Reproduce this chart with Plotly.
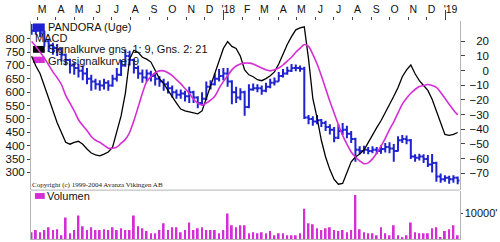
import plotly.graph_objects as go
import pandas as pd

# ---------------- data ----------------
week_start = "2017-02-20"
n_weeks = 101
weeks = pd.date_range(week_start, periods=n_weeks, freq="7D")

first_open = 845
close = [830, 835, 820, 790, 775, 765, 760, 740, 720, 700,
         690, 680, 670, 650, 640, 630, 625, 635, 625, 650,
         665, 700, 735, 720, 690, 670, 655, 670, 660, 650,
         640, 630, 615, 600, 590, 595, 585, 600, 580, 560,
         575, 620, 630, 650, 660, 670, 640, 600, 580, 600,
         545, 610, 615, 615, 605, 620, 635, 640, 660, 670,
         680, 690, 690, 688, 505, 500, 490, 495, 485, 470,
         460, 430, 455, 460, 445, 425, 385, 380, 385, 380,
         385, 380, 388, 395, 390, 380, 420, 425, 420, 360,
         355, 360, 350, 330, 335, 285, 275, 280, 275, 280,
         270]
high = [855, 850, 848, 830, 800, 785, 780, 765, 745, 725,
        712, 705, 700, 690, 665, 650, 645, 650, 645, 665,
        690, 720, 760, 755, 725, 700, 685, 685, 680, 670,
        660, 650, 640, 625, 610, 610, 605, 620, 605, 585,
        600, 640, 645, 670, 687, 690, 690, 645, 620, 615,
        605, 630, 632, 630, 625, 635, 650, 655, 675, 687,
        695, 705, 703, 700, 695, 515, 510, 515, 500, 493,
        480, 470, 480, 485, 475, 455, 430, 398, 400, 395,
        398, 395, 402, 410, 413, 406, 435, 440, 438, 425,
        368, 370, 368, 365, 369, 340, 296, 290, 288, 290,
        285]
low = [815, 815, 805, 770, 750, 740, 735, 715, 700, 670,
       665, 655, 645, 630, 605, 610, 605, 610, 605, 620,
       640, 660, 695, 700, 670, 650, 635, 640, 640, 625,
       620, 605, 595, 580, 575, 575, 565, 560, 560, 540,
       550, 570, 610, 625, 640, 645, 620, 555, 560, 570,
       512, 540, 605, 600, 590, 600, 615, 625, 640, 655,
       665, 675, 678, 676, 500, 480, 475, 480, 470, 455,
       442, 413, 425, 440, 428, 410, 340, 368, 370, 368,
       372, 368, 370, 375, 372, 340, 378, 410, 405, 350,
       340, 345, 335, 320, 300, 265, 262, 265, 258, 262,
       256]
open_ = [first_open] + close[:-1]

macd = [9.8, 3.1, -2.2, -10.9, -18.9, -27.5, -35.5, -42.2, -48.9, -50.2,
        -48.9, -48.2, -50.2, -53.5, -56.2, -57.5, -58.2, -56.9, -55.5, -52.2,
        -42.2, -30.9, -15.5, 7.8, 13.8, 12.5, 9.1, 7.8, 5.8, -0.2,
        -5.5, -8.9, -13.5, -17.5, -22.2, -26.2, -27.5, -28.2, -28.9, -29.5,
        -27.5, -18.9, -10.2, -0.9, 7.8, 15.1, 19.8, 16.5, 15.1, 9.8,
        0.5, -2.9, -4.2, -6.2, -6.9, -5.5, -3.5, -0.9, 4.5, 11.1,
        17.8, 23.1, 27.8, 29.1, 29.8, 7.8, -18.9, -32.2, -47.5, -58.9,
        -67.5, -74.2, -77.5, -76.9, -68.9, -62.2, -58.9, -56.9, -54.2, -48.9,
        -44.2, -38.9, -34.2, -28.9, -23.5, -17.5, -11.5, -4.2, 0.5, 3.8,
        -2.2, -6.9, -10.2, -13.5, -19.5, -27.5, -36.9, -43.5, -44.2, -43.5,
        -42.2]
signal = [19.8, 16.5, 12.5, 8.5, 3.8, -0.9, -4.9, -9.5, -16.9, -22.2,
          -27.5, -33.5, -37.5, -40.9, -44.9, -47.5, -48.9, -50.9, -52.9, -52.9,
          -52.2, -49.5, -46.9, -42.2, -34.2, -24.9, -15.5, -7.5, -4.2, -1.5,
          -0.2, -0.2, -1.5, -3.5, -6.2, -8.9, -12.2, -15.5, -19.5, -22.2,
          -23.5, -22.2, -20.2, -17.5, -12.2, -7.5, -3.5, 0.5, 3.1, 4.5,
          5.1, 5.1, 4.5, 3.1, 1.8, 0.5, -0.2, 0.5, 1.8, 3.8,
          6.5, 9.1, 12.5, 15.1, 17.8, 16.5, 11.1, 4.5, -3.5, -12.2,
          -20.9, -28.9, -36.9, -44.2, -50.2, -55.5, -58.9, -61.5, -63.5, -62.9,
          -60.2, -56.2, -51.5, -46.2, -40.2, -34.9, -28.9, -22.9, -18.9, -15.5,
          -12.9, -10.9, -10.2, -9.5, -10.2, -11.5, -14.9, -18.9, -22.9, -26.9,
          -30.2]
volume = [2700, 3500, 2700, 3500, 4600, 3500, 3800, 1500, 8500, 2300,
          3500, 9200, 5000, 3500, 4600, 3500, 3500, 3800, 3500, 4600,
          3500, 4200, 3500, 3500, 9200, 5000, 4200, 3100, 2300, 2300,
          3500, 6200, 3500, 4600, 4600, 2700, 3500, 6500, 3500, 4200,
          4600, 3500, 3500, 3500, 2300, 3500, 10000, 5400, 4600, 5400,
          5400, 2300, 2700, 2300, 2700, 2300, 3100, 1500, 2300, 2300,
          1500, 1500, 1500, 2300, 11900, 6200, 5800, 4200, 3500, 4200,
          4600, 3500, 3100, 3500, 2700, 3500, 17300, 3800, 2700, 2300,
          2300, 1500, 4600, 2300, 1500, 5400, 1500, 800, 1500, 6500,
          2700, 2300, 2300, 2300, 4200, 4600, 800, 3100, 3800, 5400,
          1500]

month_ticks = pd.date_range("2017-03-01", "2019-01-01", freq="MS")
month_labels = ["M", "A", "M", "J", "J", "A", "S", "O", "N", "D", "'18",
                "F", "M", "A", "M", "J", "J", "A", "S", "O", "N", "D", "'19"]
year_ticks = pd.to_datetime(["2018-01-01", "2019-01-01"])
price_ticks = list(range(300, 801, 50))
macd_ticks = list(range(-70, 21, 10))
vol_ticks = [10000]
vol_labels = ["10000'"]

legend_labels = ["PANDORA (Uge)", "MACD", "Signalkurve gns. 1: 9, Gns. 2: 21",
                 "Gns.signalkurve: 9"]
copyright_text = "Copyright (c) 1999-2004 Avanza Vikingen AB"
volume_label = "Volumen"

# ---------------- styling / layout ----------------
BLUE = "#1f22cf"
MAG = "#d62ed6"
FRAME = "#b4b4b4"
FONT = "Liberation Sans, Arial, sans-serif"
LEGFONT = "Liberation Sans Narrow, Arial Narrow, Liberation Sans, Arial, sans-serif"
W, H = 500, 242
ML, MR, MT, MB = 31, 3, 16, 3
PW, PH = W - ML - MR, H - MT - MB


def px_x(px):
    return (px - ML) / PW


def px_y(py):
    return (H - MB - py) / PH


x_end = px_x(467)
x_range = ["2017-02-19", "2019-01-24"]
macd_range = [-81.5, 33.8]

fig = go.Figure()
fig.add_trace(go.Bar(x=weeks, y=volume, xaxis="x2", yaxis="y3",
                     marker=dict(color=MAG, line=dict(width=0)),
                     width=3 * 86400000, hoverinfo="skip"))
fig.add_trace(go.Ohlc(x=weeks, open=open_, high=high, low=low, close=close,
                      xaxis="x", yaxis="y", tickwidth=0.5,
                      increasing=dict(line=dict(color=BLUE, width=2)),
                      decreasing=dict(line=dict(color=BLUE, width=2))))
fig.add_trace(go.Scatter(x=weeks, y=macd, xaxis="x", yaxis="y2", mode="lines",
                         line=dict(color="#000000", width=1.3)))
fig.add_trace(go.Scatter(x=weeks, y=signal, xaxis="x", yaxis="y2", mode="lines",
                         line=dict(color=MAG, width=1.6, shape="spline", smoothing=0.8)))
# invisible carrier so the label-only overlay axes get drawn
fig.add_trace(go.Scatter(x=weeks, y=signal, xaxis="x3", yaxis="y4", mode="lines",
                         line=dict(color="rgba(0,0,0,0)", width=0), hoverinfo="skip"))

main_lo = px_y(189)
vol_hi = px_y(190)

fig.update_layout(
    width=W, height=H, margin=dict(l=ML, r=MR, t=MT, b=MB),
    paper_bgcolor="white", plot_bgcolor="white", showlegend=False,
    font=dict(family=FONT, color="#111", size=11),
    xaxis=dict(domain=[0, x_end], anchor="y", side="top", range=x_range,
               tickmode="array", tickvals=month_ticks, ticktext=month_labels,
               ticks="outside", ticklen=3, tickcolor="#444", ticklabelshift=5,
               tickfont=dict(size=10.5), showgrid=False, zeroline=False,
               showline=False, rangeslider=dict(visible=False)),
    xaxis2=dict(domain=[0, x_end], anchor="y3", range=x_range, matches="x",
                showticklabels=False, ticks="", showgrid=False, zeroline=False,
                showline=True, linecolor=FRAME, linewidth=1),
    xaxis3=dict(domain=[0, x_end], overlaying="x", side="top", anchor="y",
                range=x_range, tickmode="array", tickvals=year_ticks,
                ticks="outside", ticklen=10, tickcolor="#444",
                showticklabels=False, showgrid=False, zeroline=False,
                showline=False),
    yaxis=dict(domain=[main_lo, 1], anchor="x", range=[234, 866],
               tickmode="array", tickvals=price_ticks, ticks="outside",
               ticklen=3, tickcolor="#444", tickfont=dict(size=11.5),
               showgrid=False, zeroline=False, showline=True,
               linecolor=FRAME, linewidth=1),
    yaxis2=dict(overlaying="y", side="right", anchor="x", range=macd_range,
                tickmode="array", tickvals=macd_ticks, ticks="outside",
                ticklen=4, tickcolor="#444", showticklabels=False,
                showgrid=False, zeroline=False, showline=True,
                linecolor=FRAME, linewidth=1),
    yaxis4=dict(domain=[main_lo, 1], overlaying="y", anchor="free", position=1.0,
                side="left", range=macd_range, tickmode="array",
                tickvals=macd_ticks, ticks="", tickfont=dict(size=11.5),
                showgrid=False, zeroline=False, showline=False),
    yaxis3=dict(domain=[0, vol_hi], anchor="x2", side="right",
                range=[0, 18850], tickmode="array", tickvals=vol_ticks,
                ticktext=vol_labels, ticks="outside", ticklen=2,
                tickcolor="#444", tickfont=dict(size=11), showgrid=False,
                zeroline=False, showline=True, mirror=True,
                linecolor=FRAME, linewidth=1),
)

shapes = [
    dict(type="line", xref="x domain", yref="y domain", x0=0, x1=1, y0=0, y1=0,
         line=dict(color=FRAME, width=1)),
]
boxes = [(BLUE, 18.5, 27), ("#000000", 41.5, 48.5), (MAG, 52.5, 59), (MAG, 192, 198)]
for col, ytop, ybot in boxes:
    x0 = 33 if ytop < 190 else 35
    shapes.append(dict(type="rect", xref="paper", yref="paper",
                       x0=px_x(x0), x1=px_x(45), y0=px_y(ybot), y1=px_y(ytop),
                       fillcolor=col, line=dict(width=0), layer="below"))
fig.update_layout(shapes=shapes)

ann = []
leg_pos = [(47, 22.5), (34, 33.5), (47, 45), (47, 56.5)]
for txt, (xx, yy) in zip(legend_labels, leg_pos):
    ann.append(dict(text=txt, x=px_x(xx), y=px_y(yy), xref="paper", yref="paper",
                    xanchor="left", yanchor="middle", showarrow=False, borderpad=0,
                    font=dict(size=11, family=LEGFONT, color="#111")))
ann.append(dict(text=copyright_text, x=px_x(31), y=px_y(184), xref="paper",
                yref="paper", xanchor="left", yanchor="middle", showarrow=False,
                borderpad=0,
                font=dict(size=7, family="Liberation Serif, Times New Roman, serif",
                          color="#222")))
ann.append(dict(text=volume_label, x=px_x(46), y=px_y(195.5), xref="paper",
                yref="paper", xanchor="left", yanchor="middle", showarrow=False,
                borderpad=0,
                font=dict(size=11, family=LEGFONT, color="#111")))
fig.update_layout(annotations=ann)

fig.write_html("out.html")
